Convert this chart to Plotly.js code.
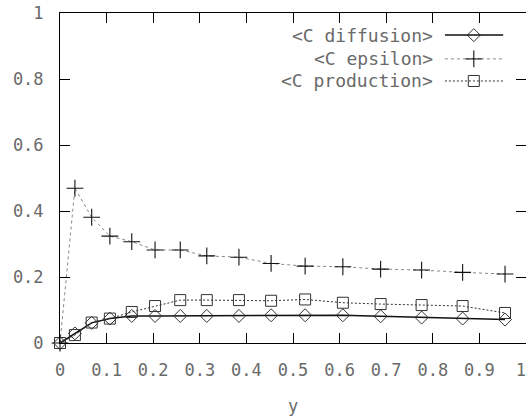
<!DOCTYPE html>
<html>
<head>
<meta charset="utf-8">
<script src="https://cdn.plot.ly/plotly-3.0.1.min.js"></script>
<style>
html,body{margin:0;padding:0;overflow:hidden;background:#fff;}
#chart{width:526px;height:416px;}
</style>
</head>
<body>
<div id="chart"></div>
<script>
// ---- data ----
var yPos = [0, 0.032, 0.068, 0.107, 0.154, 0.204, 0.258, 0.315, 0.384, 0.453, 0.526, 0.607, 0.688, 0.776, 0.864, 0.955];
var cDiffusion = [0, 0.029, 0.061, 0.074, 0.082, 0.082, 0.082, 0.082, 0.082, 0.084, 0.084, 0.084, 0.081, 0.077, 0.074, 0.071];
var cEpsilon = [0, 0.469, 0.381, 0.324, 0.307, 0.282, 0.282, 0.264, 0.260, 0.241, 0.233, 0.231, 0.224, 0.221, 0.214, 0.209];
var cProduction = [0, 0.024, 0.062, 0.074, 0.094, 0.112, 0.130, 0.130, 0.130, 0.128, 0.132, 0.122, 0.118, 0.115, 0.112, 0.091];
var seriesNames = ["&lt;C diffusion&gt;", "&lt;C epsilon&gt;", "&lt;C production&gt;"];
var xTickVals = [0, 0.1, 0.2, 0.3, 0.4, 0.5, 0.6, 0.7, 0.8, 0.9, 1];
var xTickText = ["0", "0.1", "0.2", "0.3", "0.4", "0.5", "0.6", "0.7", "0.8", "0.9", "1\u00a0"];
var yTickVals = [0, 0.2, 0.4, 0.6, 0.8, 1];
var yTickText = ["0", "0.2", "0.4", "0.6", "0.8", "1"];
var xTitle = "y";

var FONT = "DejaVu Sans Mono, monospace";
var TXT = "#6a6a6a";

var styles = [
  {line: {color: "#111", width: 1.5, dash: "solid"}, marker: {symbol: "diamond-open", size: 10, color: "#333", line: {width: 1}}},
  {line: {color: "#888", width: 1, dash: "dot"}, marker: {symbol: "cross-thin-open", size: 12, color: "#111", line: {width: 1.1, color: "#111"}}},
  {line: {color: "#333", width: 1, dash: "2px,2px"}, marker: {symbol: "square-open", size: 11, color: "#333", line: {width: 1}}}
];
var series = [cDiffusion, cEpsilon, cProduction];

var traces = series.map(function (vals, i) {
  return {
    x: yPos, y: vals, type: "scatter", mode: "lines+markers",
    name: seriesNames[i], showlegend: false,
    line: styles[i].line, marker: styles[i].marker, cliponaxis: false
  };
});

// custom gnuplot-style key (text right, sample on the right)
var keyRows = [0.933, 0.861, 0.794];
var keyTextX = 0.805, keyL = 0.826, keyR = 0.951, keyM = 0.888;
var annotations = [];
var shapes = [];
keyRows.forEach(function (ky, i) {
  annotations.push({xref: "paper", yref: "paper", x: keyTextX, y: ky, xanchor: "right", yanchor: "middle",
    text: seriesNames[i], showarrow: false, font: {family: FONT, size: 18, color: TXT}});
  shapes.push({type: "line", xref: "paper", yref: "paper", x0: keyL, x1: keyR, y0: ky, y1: ky,
    line: {color: styles[i].line.color, width: styles[i].line.width, dash: styles[i].line.dash}});
  traces.push({x: [keyM], y: [ky], xaxis: "x2", yaxis: "y2", type: "scatter", mode: "markers",
    showlegend: false, hoverinfo: "skip", marker: styles[i].marker, cliponaxis: false});
});

var axisCommon = {
  range: [0, 1], showline: true, linecolor: "#000", linewidth: 1, mirror: "ticks",
  ticks: "inside", ticklen: 10, tickcolor: "#000", tickwidth: 1,
  showgrid: false, zeroline: false, ticklabeloverflow: "allow",
  tickfont: {family: FONT, size: 17, color: TXT}
};

var layout = {
  width: 526, height: 416,
  margin: {l: 60, r: 0, t: 13, b: 73},
  paper_bgcolor: "#fff", plot_bgcolor: "#fff",
  showlegend: false,
  xaxis: Object.assign({}, axisCommon, {tickmode: "array", tickvals: xTickVals, ticktext: xTickText, ticklabelstandoff: 12,
    title: {text: xTitle, font: {family: FONT, size: 17, color: TXT}, standoff: 22}}),
  yaxis: Object.assign({}, axisCommon, {tickmode: "array", tickvals: yTickVals, ticktext: yTickText, ticklabelstandoff: 12}),
  xaxis2: {range: [0, 1], overlaying: "x", visible: false, fixedrange: true},
  yaxis2: {range: [0, 1], overlaying: "y", visible: false, fixedrange: true},
  annotations: annotations,
  shapes: shapes
};

Plotly.newPlot("chart", traces, layout, {staticPlot: true, displayModeBar: false});
</script>
</body>
</html>
